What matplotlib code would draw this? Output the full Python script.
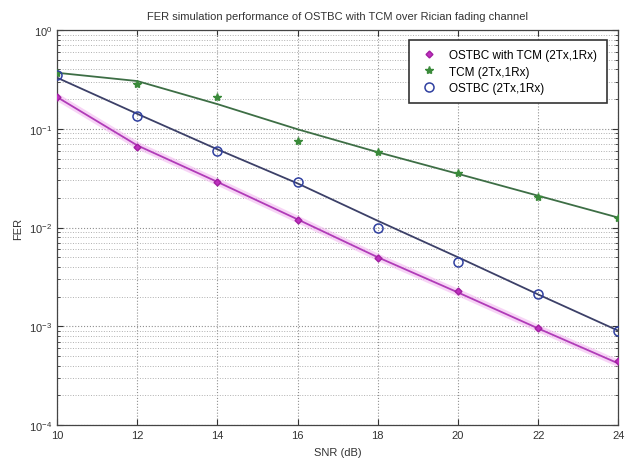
import matplotlib
matplotlib.use("Agg")
import matplotlib.pyplot as plt
from matplotlib.ticker import LogLocator, NullFormatter

# SNR points (dB)
snr = [10, 12, 14, 16, 18, 20, 22, 24]

# simulated points (markers)
fer_ostbc_tcm = [0.21, 0.065, 0.029, 0.0119, 0.0049, 0.0023, 0.00095, 0.00044]
fer_tcm = [0.37, 0.285, 0.21, 0.076, 0.058, 0.036, 0.0204, 0.0126]
fer_ostbc = [0.35, 0.136, 0.060, 0.029, 0.0099, 0.0045, 0.0021, 0.00089]

# fitted curves (lines)
fit_ostbc_tcm = [0.21, 0.068, 0.029, 0.0121, 0.0050, 0.0022, 0.00095, 0.00042]
fit_tcm = [0.37, 0.305, 0.178, 0.099, 0.058, 0.035, 0.021, 0.0126]
fit_ostbc = [0.33, 0.142, 0.062, 0.028, 0.0117, 0.0050, 0.0021, 0.00090]

labels = ['OSTBC with TCM (2Tx,1Rx)', 'TCM (2Tx,1Rx)', 'OSTBC (2Tx,1Rx)']

plt.rcParams['font.family'] = ['Liberation Sans', 'DejaVu Sans']

fig = plt.figure(figsize=(6.28, 4.64), dpi=100)
ax = fig.add_axes([0.0908, 0.0819, 0.894, 0.851])

# pale halo under the magenta curve
ax.semilogy(snr, fit_ostbc_tcm, color='#f3b8f0', lw=5, alpha=0.6, zorder=2)
ax.semilogy(snr, fit_ostbc_tcm, color='#b03cb8', lw=1.3, zorder=3)
ax.semilogy(snr, fit_tcm, color='#3d6e45', lw=1.3, zorder=3)
ax.semilogy(snr, fit_ostbc, color='#3c4068', lw=1.3, zorder=3)

ax.semilogy(snr, fer_ostbc_tcm, linestyle='none', marker='D', ms=3.5,
            color='#c030c0', mec='#a020a0', label=labels[0], zorder=4)
ax.semilogy(snr, fer_tcm, linestyle='none', marker='*', ms=6,
            color='#3a8a3a', label=labels[1], zorder=4)
ax.semilogy(snr, fer_ostbc, linestyle='none', marker='o', ms=6.5,
            mfc='none', mec='#3040a0', mew=1.1, label=labels[2], zorder=4)

ax.set_xlim(10, 24)
ax.set_ylim(1e-4, 1)
ax.set_xticks(snr)
ax.yaxis.set_major_locator(LogLocator(base=10, numticks=10))
ax.yaxis.set_minor_locator(LogLocator(base=10, subs=range(2, 10), numticks=50))
ax.yaxis.set_minor_formatter(NullFormatter())

ax.grid(True, which='major', linestyle=':', color='#909090', lw=0.8)
ax.grid(True, which='minor', axis='y', linestyle=':', color='#b0b0b0', lw=0.7)

ax.tick_params(which='both', direction='in', labelsize=8, colors='#333333',
               top=True, right=True)
ax.tick_params(which='major', length=4)
ax.tick_params(which='minor', length=2)
for s in ax.spines.values():
    s.set_color('#444444')
    s.set_linewidth(0.9)

ax.set_xlabel('SNR (dB)', fontsize=8, color='#333333', labelpad=5)
ax.set_ylabel('FER', fontsize=8, color='#333333', labelpad=4)
ax.set_title('FER simulation performance of OSTBC with TCM over Rician fading channel',
             fontsize=8, color='#333333', pad=8)

leg = ax.legend(loc='upper right', bbox_to_anchor=(0.99, 0.99), fontsize=8.5,
                fancybox=False, framealpha=1, edgecolor='#333333',
                handlelength=1.8, borderpad=0.8, labelspacing=0.35)
leg.get_frame().set_linewidth(1.2)

fig.savefig('out.png', dpi=100)
